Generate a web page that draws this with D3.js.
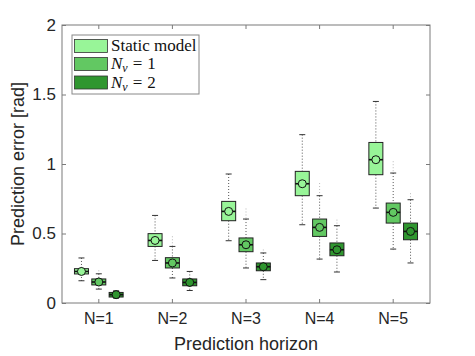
<!DOCTYPE html>
<html><head><meta charset="utf-8">
<script src="https://d3js.org/d3.v7.min.js"></script>
<style>body{margin:0;background:#fff}svg{display:block}</style>
</head><body>
<script>
const categories = ["N=1","N=2","N=3","N=4","N=5"];
const seriesNames = ["Static model","Nv1","Nv2"];
const colors = ["#98f598","#62c862","#2f962f"];
const yTicks = [0,0.5,1,1.5,2];
const yTickLabels = ["0","0.5","1","1.5","2"];

// Static model
const staticWHi = [0.324,0.63,0.928,1.211,1.45];
const staticQ3  = [0.247,0.499,0.731,0.947,1.155];
const staticMed = [0.227,0.45,0.659,0.858,1.031];
const staticQ1  = [0.209,0.407,0.592,0.772,0.923];
const staticWLo = [0.16,0.306,0.448,0.563,0.683];
const staticOutHi = [null,null,null,null,null];
const staticOutLo = [null,null,null,null,null];
// Nv = 1
const nv1WHi = [0.21,0.407,0.604,0.772,0.935];
const nv1Q3  = [0.173,0.326,0.468,0.604,0.719];
const nv1Med = [0.151,0.288,0.419,0.544,0.652];
const nv1Q1  = [0.13,0.252,0.369,0.479,0.575];
const nv1WLo = [0.10,0.18,0.252,0.316,0.388];
const nv1OutHi = [0.235,0.48,0.68,0.863,1.02];
const nv1OutLo = [null,null,null,0.30,0.37];
// Nv = 2
const nv2WHi = [0.088,0.227,0.36,0.556,0.743];
const nv2Q3  = [0.076,0.173,0.288,0.432,0.575];
const nv2Med = [0.06,0.148,0.261,0.383,0.515];
const nv2Q1  = [0.043,0.124,0.232,0.34,0.455];
const nv2WLo = [0.035,0.09,0.168,0.223,0.288];
const nv2OutHi = [null,null,0.385,0.6,0.79];
const nv2OutLo = [null,null,null,null,null];

const series = [
  {wHi:staticWHi,q3:staticQ3,med:staticMed,q1:staticQ1,wLo:staticWLo,oHi:staticOutHi,oLo:staticOutLo},
  {wHi:nv1WHi,q3:nv1Q3,med:nv1Med,q1:nv1Q1,wLo:nv1WLo,oHi:nv1OutHi,oLo:nv1OutLo},
  {wHi:nv2WHi,q3:nv2Q3,med:nv2Med,q1:nv2Q1,wLo:nv2WLo,oHi:nv2OutHi,oLo:nv2OutLo}
];

const W=475,H=356;
const L=62,T=25,R=430,B=303;
const svg=d3.select("body").append("svg").attr("width",W).attr("height",H);

const x=d3.scaleBand().domain(categories).range([L,R]).paddingInner(0).paddingOuter(0);
const off=d3.scaleBand().domain(seriesNames).range([-26,26]).padding(0);
const y=d3.scaleLinear().domain([0,2]).range([B,T]);
const axisCol="#7a7a7a";
const bw=14;
const sans="Liberation Sans, Arial, sans-serif";

const g=svg.append("g");
g.append("rect").attr("x",L).attr("y",T).attr("width",R-L).attr("height",B-T)
  .attr("fill","none").attr("stroke",axisCol).attr("stroke-width",1);

const xb=d3.axisBottom(x).tickSize(-4).tickPadding(10).tickSizeOuter(0);
const ax=svg.append("g").attr("transform",`translate(0,${B})`).call(xb);
ax.select(".domain").remove();
ax.selectAll("line").attr("stroke",axisCol);
ax.selectAll("text").attr("font-family",sans).attr("font-size",16).attr("fill","#262626");
const xt=d3.axisTop(x).tickSize(-4).tickFormat("").tickSizeOuter(0);
const axt=svg.append("g").attr("transform",`translate(0,${T})`).call(xt);
axt.select(".domain").remove(); axt.selectAll("line").attr("stroke",axisCol);

const yl=d3.axisLeft(y).tickValues(yTicks).tickFormat((d,i)=>yTickLabels[i]).tickSize(-4).tickPadding(6).tickSizeOuter(0);
const ayl=svg.append("g").attr("transform",`translate(${L},0)`).call(yl);
ayl.select(".domain").remove(); ayl.selectAll("line").attr("stroke",axisCol);
ayl.selectAll("text").attr("font-family",sans).attr("font-size",17).attr("fill","#262626");
const yr=d3.axisRight(y).tickValues(yTicks).tickFormat("").tickSize(-4).tickSizeOuter(0);
const ayr=svg.append("g").attr("transform",`translate(${R},0)`).call(yr);
ayr.select(".domain").remove(); ayr.selectAll("line").attr("stroke",axisCol);

series.forEach((s,si)=>{
  categories.forEach((c,ci)=>{
    const cx=x(c)+x.bandwidth()/2+off(seriesNames[si])+off.bandwidth()/2;
    const bg=svg.append("g");
    if(s.oHi[ci]!=null){
      bg.append("line").attr("x1",cx).attr("x2",cx).attr("y1",y(s.oHi[ci])).attr("y2",y(s.wHi[ci]))
        .attr("stroke","#b8b8b8").attr("stroke-dasharray","1,2");
    }
    if(s.oLo[ci]!=null){
      bg.append("line").attr("x1",cx).attr("x2",cx).attr("y1",y(s.wLo[ci])).attr("y2",y(s.oLo[ci]))
        .attr("stroke","#b8b8b8").attr("stroke-dasharray","1,2");
    }
    bg.append("line").attr("x1",cx).attr("x2",cx).attr("y1",y(s.wHi[ci])).attr("y2",y(s.q3[ci]))
      .attr("stroke","#555").attr("stroke-dasharray","1,2");
    bg.append("line").attr("x1",cx).attr("x2",cx).attr("y1",y(s.q1[ci])).attr("y2",y(s.wLo[ci]))
      .attr("stroke","#555").attr("stroke-dasharray","1,2");
    [s.wHi[ci],s.wLo[ci]].forEach(v=>{
      bg.append("line").attr("x1",cx-3).attr("x2",cx+3).attr("y1",y(v)).attr("y2",y(v))
        .attr("stroke","#333").attr("stroke-width",1);
    });
    bg.append("rect").attr("x",cx-bw/2).attr("y",y(s.q3[ci])).attr("width",bw)
      .attr("height",y(s.q1[ci])-y(s.q3[ci])).attr("fill",colors[si]).attr("stroke","#222").attr("stroke-width",1);
    bg.append("line").attr("x1",cx-bw/2).attr("x2",cx+bw/2).attr("y1",y(s.med[ci])).attr("y2",y(s.med[ci]))
      .attr("stroke","#111").attr("stroke-width",1.6);
    bg.append("circle").attr("cx",cx).attr("cy",y(s.med[ci])).attr("r",4)
      .attr("fill",colors[si]).attr("stroke","#111").attr("stroke-width",1);
  });
});

svg.append("text").attr("x",(L+R)/2).attr("y",350).attr("text-anchor","middle")
  .attr("font-family",sans).attr("font-size",18).attr("fill","#262626")
  .text("Prediction horizon");
svg.append("text").attr("transform",`translate(24,${(T+B)/2}) rotate(-90)`).attr("text-anchor","middle")
  .attr("font-family",sans).attr("font-size",18).attr("fill","#262626")
  .text("Prediction error [rad]");

const lg=svg.append("g");
lg.append("rect").attr("x",72).attr("y",35).attr("width",127).attr("height",59)
  .attr("fill","#fff").attr("stroke","#888").attr("stroke-width",1);
const rows=[39.5,57.5,76];
rows.forEach((ry,i)=>{
  lg.append("rect").attr("x",74.5).attr("y",ry).attr("width",33).attr("height",13)
    .attr("fill",colors[i]).attr("stroke","#333").attr("stroke-width",0.8);
  const t=lg.append("text").attr("x",111).attr("y",ry+11.5)
    .attr("font-family","Liberation Serif, Times New Roman, serif").attr("font-size",17).attr("fill","#111")
    .attr("xml:space","preserve").style("white-space","pre");
  if(i===0){ t.text("Static model"); }
  else {
    t.append("tspan").attr("font-style","italic").text("N");
    t.append("tspan").attr("font-style","italic").attr("font-size",12).attr("dy",3).text("v");
    t.append("tspan").attr("dy",-3).attr("dx",5).text("=");
    t.append("tspan").attr("dx",5).text(String(i));
  }
});
</script>
</body></html>
